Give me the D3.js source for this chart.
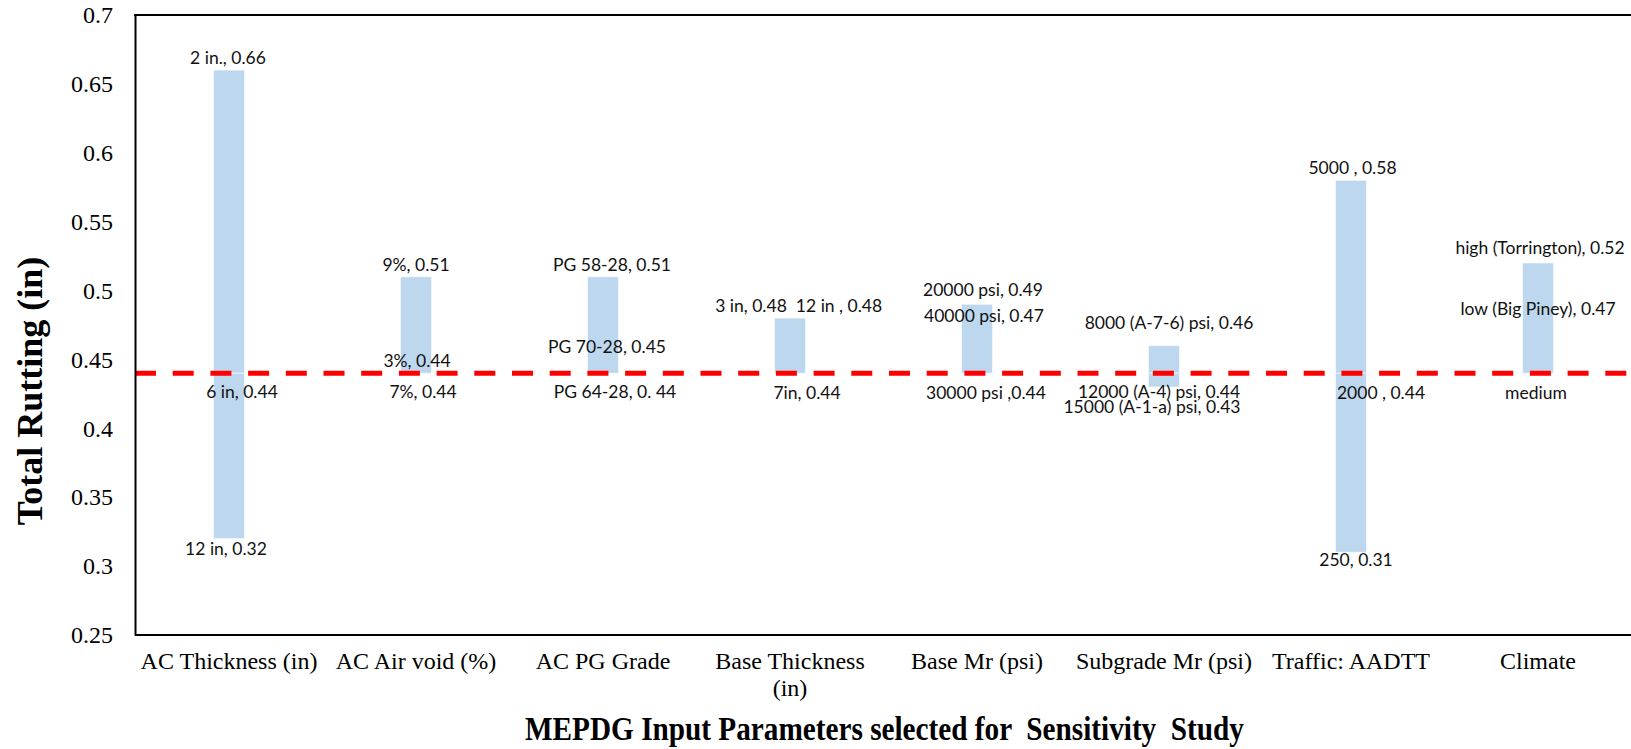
<!DOCTYPE html>
<html>
<head>
<meta charset="utf-8">
<script src="https://cdn.jsdelivr.net/npm/d3@7"></script>
<style>
  html, body { margin: 0; padding: 0; background: #fff; overflow: hidden; }
  svg { display: block; }
  .serif { font-family: "Liberation Serif", "Times New Roman", serif; }
  .dlabel { font-family: "Lato", "Open Sans", sans-serif; font-size: 17.5px; fill: #111; }
</style>
</head>
<body>
<svg id="chart" width="1631" height="749"></svg>
<script>
// Input parameters studied and the total rutting range each one produces
const categories = [
  "AC Thickness (in)", "AC Air void (%)", "AC PG Grade", "Base Thickness (in)",
  "Base Mr (psi)", "Subgrade Mr (psi)", "Traffic: AADTT", "Climate"
];
const referenceRutting = 0.44;
const highRutting = [0.66, 0.51, 0.51, 0.48, 0.49, 0.46, 0.58, 0.52];
const lowRutting  = [0.32, 0.44, 0.44, 0.44, 0.44, 0.43, 0.31, 0.44];

const yTickValues = [0.25, 0.3, 0.35, 0.4, 0.45, 0.5, 0.55, 0.6, 0.65, 0.7];
const yTickLabels = ["0.25", "0.3", "0.35", "0.4", "0.45", "0.5", "0.55", "0.6", "0.65", "0.7"];

// Point labels: the input level and the rutting it gives
const labelCategory = [0, 0, 0, 1, 1, 1, 2, 2, 2, 3, 3, 3, 4, 4, 4, 5, 5, 5, 6, 6, 6, 7, 7, 7];
const labelText = [
  "2 in., 0.66", "6 in, 0.44", "12 in, 0.32",
  "9%, 0.51", "3%, 0.44", "7%, 0.44",
  "PG 58-28, 0.51", "PG 70-28, 0.45", "PG 64-28, 0. 44",
  "3 in, 0.48", "12 in , 0.48", "7in, 0.44",
  "20000 psi, 0.49", "40000 psi, 0.47", "30000 psi ,0.44",
  "8000 (A-7-6) psi, 0.46", "12000 (A-4) psi, 0.44", "15000 (A-1-a) psi, 0.43",
  "5000 , 0.58", "2000 , 0.44", "250, 0.31",
  "high (Torrington), 0.52", "low (Big Piney), 0.47", "medium"
];
const labelValue = [
  0.66, 0.44, 0.32,
  0.51, 0.44, 0.44,
  0.51, 0.45, 0.44,
  0.48, 0.48, 0.44,
  0.49, 0.47, 0.44,
  0.46, 0.44, 0.43,
  0.58, 0.44, 0.31,
  0.52, 0.47, 0.44
];
// Label placement relative to the bar centre and the value's height: [dx, dy]
const labelOffset = [
  [-1, -6], [13, 25], [-3, 16.5],
  [0, -6], [1, -6.5], [7, 25],
  [9, -6], [4, -6], [12, 25],
  [-39, -6.5], [49, -6.5], [17, 26],
  [6, -8.6], [7, -9.6], [9, 26],
  [5, -16.7], [-5, 25], [-12, 26.3],
  [1.5, -6.3], [30, 26], [5, 13.4],
  [2, -8.7], [0, -17], [-2, 26]
];

const svg = d3.select("#chart");
const plot = { left: 135, top: 15, right: 1631.5, bottom: 635 };

const x = d3.scaleBand()
  .domain(categories)
  .range([plot.left + 0.5, plot.right])
  .paddingInner(0.834)
  .paddingOuter(0.417);

const y = d3.scaleLinear()
  .domain([0.25, 0.7])
  .range([plot.bottom, plot.top]);

const cx = c => x(c) + x.bandwidth() / 2;

// Floating bars, split at the reference rutting level
const segments = categories.flatMap((c, i) => [
  { c, from: referenceRutting, to: highRutting[i] },
  { c, from: lowRutting[i], to: referenceRutting }
]).filter(s => s.to > s.from);

svg.append("g")
  .selectAll("rect")
  .data(segments)
  .join("rect")
  .attr("x", d => x(d.c))
  .attr("width", x.bandwidth())
  .attr("y", d => y(d.to))
  .attr("height", d => y(d.from) - y(d.to))
  .attr("fill", "#BDD7EE")
  .attr("stroke", "#ffffff")
  .attr("stroke-opacity", 0.55)
  .attr("stroke-width", 1);

// Reference (medium input) rutting line
svg.append("line")
  .attr("x1", plot.left)
  .attr("x2", plot.right)
  .attr("y1", y(referenceRutting))
  .attr("y2", y(referenceRutting))
  .attr("stroke", "#FF0000")
  .attr("stroke-width", 5)
  .attr("stroke-dasharray", "21 16.7");

// Frame: left axis, bottom axis and top edge
const yAxis = svg.append("g")
  .attr("transform", `translate(${plot.left},0)`)
  .call(d3.axisLeft(y).tickValues(yTickValues).tickSize(0).tickPadding(22)
    .tickFormat((d, i) => yTickLabels[i]));
yAxis.select(".domain").attr("stroke", "#000").attr("stroke-width", 2);
yAxis.selectAll("text")
  .attr("class", "serif")
  .attr("font-size", 24)
  .attr("fill", "#000");

const xAxis = svg.append("g")
  .attr("transform", `translate(0,${plot.bottom})`)
  .call(d3.axisBottom(x).tickSize(0).tickPadding(0).tickFormat(""));
xAxis.select(".domain")
  .attr("d", `M${plot.left},0H${plot.right + 2}`)
  .attr("stroke", "#000").attr("stroke-width", 2);

svg.append("line")
  .attr("x1", plot.left - 1).attr("x2", plot.right + 2)
  .attr("y1", plot.top).attr("y2", plot.top)
  .attr("stroke", "#000").attr("stroke-width", 2);

// Category labels, wrapped to the width of one category slot
const catLabels = svg.append("g").attr("class", "serif").attr("font-size", 24);
categories.forEach(c => {
  const t = catLabels.append("text")
    .attr("x", cx(c))
    .attr("y", 669)
    .attr("text-anchor", "middle")
    .attr("fill", "#000");
  const words = c.split(" ");
  let line = [];
  let tspan = t.append("tspan").attr("x", cx(c)).attr("dy", 0);
  let lineNo = 0;
  words.forEach(w => {
    line.push(w);
    tspan.text(line.join(" "));
    if (tspan.node().getComputedTextLength() > x.step() - 4 && line.length > 1) {
      line.pop();
      tspan.text(line.join(" "));
      line = [w];
      lineNo++;
      tspan = t.append("tspan").attr("x", cx(c)).attr("dy", 27).text(w);
    }
  });
});

// Value labels
svg.append("g")
  .selectAll("text")
  .data(labelText.map((t, i) => ({ t, c: categories[labelCategory[i]], v: labelValue[i], o: labelOffset[i] })))
  .join("text")
  .attr("class", "dlabel")
  .attr("x", d => cx(d.c) + d.o[0])
  .attr("y", d => y(d.v) + d.o[1])
  .attr("text-anchor", "middle")
  .style("white-space", "pre")
  .text(d => d.t);

// Axis titles
svg.append("text")
  .attr("class", "serif")
  .attr("font-size", 36)
  .attr("font-weight", "bold")
  .attr("text-anchor", "middle")
  .attr("transform", "translate(42,391) rotate(-90)")
  .text("Total Rutting (in)");

svg.append("text")
  .attr("class", "serif")
  .attr("font-size", 34)
  .attr("font-weight", "bold")
  .attr("x", 525)
  .attr("y", 740)
  .attr("textLength", 719)
  .attr("lengthAdjust", "spacingAndGlyphs")
  .style("white-space", "pre")
  .text("MEPDG Input Parameters selected for  Sensitivity  Study");
</script>
</body>
</html>
